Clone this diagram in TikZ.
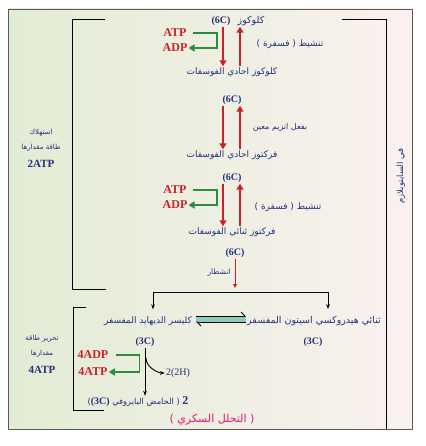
\documentclass[tikz,border=0pt]{standalone}
\usepackage{fontspec}
\setmainfont{Liberation Serif}
\newfontfamily\arabicfont[Script=Arabic]{DejaVu Sans}
\TeXXeTstate=1
\usetikzlibrary{arrows.meta}
\definecolor{Ink}{RGB}{38,48,128}
\definecolor{Hot}{RGB}{205,32,40}
\definecolor{Leaf}{RGB}{44,140,64}
\definecolor{Pink}{RGB}{222,26,120}
\definecolor{Sea}{RGB}{140,204,192}
\definecolor{BgGreen}{RGB}{226,236,212}
\definecolor{BgPink}{RGB}{250,241,239}

\begin{document}
\begin{tikzpicture}[x=1pt,y=-1pt,
  ar/.style={font=\arabicfont\fontsize{9}{10}\selectfont,text=Ink,inner sep=1pt},
  arsm/.style={font=\arabicfont\fontsize{7}{8}\selectfont,text=Ink,inner sep=1pt},
  lat/.style={font=\bfseries\fontsize{10}{12}\selectfont,text=Ink,inner sep=1pt},
  en/.style={font=\bfseries\fontsize{12}{14}\selectfont,text=Hot,inner sep=1pt},
  redarr/.style={draw=Hot,line width=1.8pt,-{Triangle[length=6pt,width=7pt]}},
  grarr/.style={draw=Leaf,line width=1.8pt,-{Triangle[length=6pt,width=7pt]}},
  blkarr/.style={draw=black,line width=0.9pt,-{Stealth[length=5pt]}},
  brk/.style={draw=black,line width=1pt}]
  \useasboundingbox (0,0) rectangle (425,446);
  \shade[left color=BgGreen,middle color=white,right color=BgPink] (8,9) rectangle (412,429);
  \draw[gray!70!black,line width=0.8pt] (8,9) rectangle (412,429);
  \draw[brk] (105,20) -| (72,289) -- (106,289);
  \draw[brk] (342,20) -| (386,429);
  \draw[brk] (86,307) -| (73,410) -- (104,410);

  \node[lat] (c6a) at (221,21) {(6C)};
  \node[ar,font=\arabicfont\fontsize{9.5}{10}\selectfont] (glc) at (251,21) {كلوكوز};
  \node[en] (atp1) at (175,33) {ATP};
  \node[en] (adp1) at (175,48) {ADP};
  \node[ar] (act1) at (290,44) {\beginR تنشيط ( فسفرة )\endR};
  \node[ar] (g6p) at (232,72) {\beginR كلوكوز احادي الفوسفات\endR};
  \draw[redarr] ([xshift=-9pt]g6p.north |- c6a.south) -- ([xshift=-9pt]g6p.north);
  \draw[redarr] ([xshift=8pt]g6p.north) -- ([xshift=8pt]g6p.north |- c6a.south);
  \draw[grarr] ([xshift=5pt]atp1.east) -- ++(24,0) |- (adp1.east);

  \node[lat] (c6b) at (232,100) {(6C)};
  \node[ar,font=\arabicfont\fontsize{8}{9}\selectfont] (enz) at (280,127) {\beginR بفعل انزيم معين\endR};
  \node[ar] (f6p) at (232,155) {\beginR فركتوز احادي الفوسفات\endR};
  \draw[redarr] ([xshift=-9pt]c6b.south) -- ([xshift=-9pt]c6b.south |- f6p.north);
  \draw[redarr] ([xshift=8pt]f6p.north) -- ([xshift=8pt]f6p.north |- c6b.south);

  \node[lat] (c6c) at (232,178) {(6C)};
  \node[en] (atp2) at (175,190) {ATP};
  \node[en] (adp2) at (175,205) {ADP};
  \node[ar] (act2) at (288,207) {\beginR تنشيط ( فسفرة )\endR};
  \node[ar] (fbp) at (232,232) {\beginR فركتوز ثنائي الفوسفات\endR};
  \draw[redarr] ([xshift=-9pt]c6c.south) -- ([xshift=-9pt]c6c.south |- fbp.north);
  \draw[redarr] ([xshift=8pt]fbp.north) -- ([xshift=8pt]fbp.north |- c6c.south);
  \draw[grarr] ([xshift=5pt]atp2.east) -- ++(24,0) |- (adp2.east);

  \node[lat] (c6d) at (235,253) {(6C)};
  \node[ar,font=\arabicfont\fontsize{7.5}{8}\selectfont] (cut) at (219,273) {انشطار};
  \coordinate (fork) at (235,292);
  \draw[draw=Hot,line width=0.9pt,-{Triangle[length=4pt,width=4pt]},shorten >=4pt] (c6d.south) -- (fork);
  \node[ar] (g3p) at (148,321) {\beginR كليسر الديهايد المفسفر\endR};
  \node[ar,font=\arabicfont\fontsize{9.5}{10}\selectfont] (dhap) at (314,321) {\beginR ثنائي هيدروكسي اسيتون المفسفر\endR};
  \draw[blkarr,shorten >=6pt] (fork) -| ([xshift=5pt]g3p.north);
  \draw[blkarr,shorten >=6pt] (fork) -| ([xshift=14pt]dhap.north);
  \coordinate (eqL) at (196,319);
  \coordinate (eqR) at (246,319);
  \fill[Sea] ([yshift=3pt]eqL) rectangle ([yshift=-3pt]eqR);
  \draw[line width=0.8pt,-{Straight Barb[left,length=4pt]}] ([yshift=3pt]eqL) -- ([yshift=3pt]eqR);
  \draw[line width=0.8pt,-{Straight Barb[left,length=4pt]}] ([yshift=-3pt]eqR) -- ([yshift=-3pt]eqL);

  \node[lat] (c3a) at (145,342) {(3C)};
  \node[lat] (c3b) at (313,342) {(3C)};
  \node[en] (adp3) at (93,355) {4ADP};
  \node[en] (atp3) at (93,372) {4ATP};
  \draw[grarr] ([xshift=6pt]adp3.east) -- ++(24,0) |- (atp3.east);
  \node[lat,font=\fontsize{10}{12}\selectfont] (h2) at (178,373) {2(2H)};
  \node[ar,font=\arabicfont\fontsize{8.3}{9}\selectfont] (pyr) at (138,402)
    {\beginR{\rmfamily\bfseries\fontsize{12}{14}\selectfont 2} ( الحامض البايروفي {\rmfamily\bfseries\fontsize{10}{12}\selectfont\beginL(3C)\endL})\endR};
  \draw[blkarr] (c3a.south) -- (c3a.south |- pyr.north);
  \coordinate (br) at (146,358);
  \draw[blkarr] (br) .. controls +(0,10) and +(-6,0) .. (h2.west);
  \node[ar,text=Pink,font=\arabicfont\fontsize{11}{12}\selectfont] (gly) at (212,420) {\beginR ( التحلل السكري )\endR};

  \node[arsm] (use1) at (41,133) {استهلاك};
  \node[arsm] (use2) at (41,148) {\beginR طاقة مقدارها\endR};
  \node[lat,font=\bfseries\fontsize{11}{13}\selectfont] (use3) at (41,164) {2ATP};
  \node[arsm] (rel1) at (42,339) {\beginR تحرير طاقة\endR};
  \node[arsm] (rel2) at (42,354) {مقدارها};
  \node[lat,font=\bfseries\fontsize{11}{13}\selectfont] (rel3) at (42,370) {4ATP};
  \node[ar,font=\arabicfont\fontsize{8.5}{9}\selectfont,rotate=90] (cyto) at (401,176) {\beginR في السايتوبلازم\endR};
\end{tikzpicture}
\end{document}
